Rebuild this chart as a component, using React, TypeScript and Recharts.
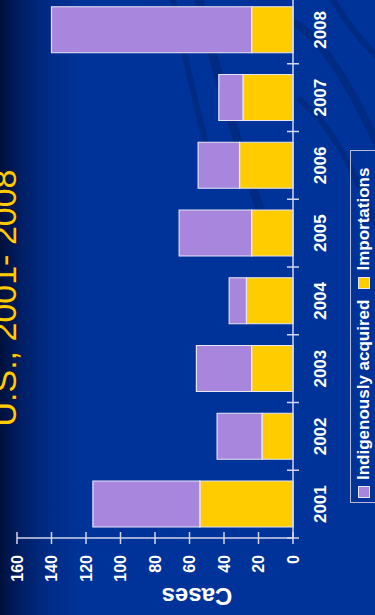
import React from 'react'
import { BarChart, Bar, XAxis, YAxis, Legend } from 'recharts'

// data (measles cases by year)
const years = ['2001', '2002', '2003', '2004', '2005', '2006', '2007', '2008']
const importations = [54, 18, 24, 27, 24, 31, 29, 24]
const indigenous = [62, 26, 32, 10, 42, 24, 14, 116]
const caseTicks = [0, 20, 40, 60, 80, 100, 120, 140, 160]

const data = years.map((year, i) => ({
  year,
  importations: importations[i],
  indigenous: indigenous[i],
}))

const FONT = '"Liberation Sans", Arial, Helvetica, sans-serif'
const PURPLE = '#A886DE'
const YELLOW = '#FFCC00'
const AXIS = '#d2d6ea'

// the slide is drawn landscape and turned a quarter to the left
const W = 615
const H = 375
const CHART_W = 620
const margin = { top: 17, right: 1, bottom: 52, left: 17 }
const Y_AXIS_W = 60
const bandW = (CHART_W - margin.left - margin.right - Y_AXIS_W) / years.length

function YearTick({ x, y, payload }: any) {
  return (
    <g>
      <line x1={x - bandW / 2} x2={x - bandW / 2} y1={y - 6} y2={y + 6} stroke={AXIS} strokeWidth={1.5} />
      <text x={x} y={y + 33} textAnchor='middle' fill='#fff' fontSize={17} fontWeight='bold' fontFamily={FONT}>
        {payload.value}
      </text>
    </g>
  )
}

function CaseTick({ x, y, payload }: any) {
  return (
    <g>
      <line x1={x - 6} x2={x + 6} y1={y} y2={y} stroke={AXIS} strokeWidth={1.5} />
      <text x={x - 17} y={y} dy='0.36em' textAnchor='end' fill='#fff' fontSize={16} fontWeight='bold' fontFamily={FONT}>
        {payload.value}
      </text>
    </g>
  )
}

function LegendBox({ payload }: any) {
  const items = [...(payload || [])].reverse()
  return (
    <div
      style={{
        border: '1px solid #b9bdd0',
        height: 40,
        boxSizing: 'border-box',
        paddingTop: 7,
        paddingLeft: 4,
        display: 'flex',
        alignItems: 'flex-start',
        fontFamily: FONT,
        fontWeight: 'bold',
        fontSize: 17,
        color: '#fff',
      }}
    >
      {items.map((it: any, i: number) => (
        <div key={it.value} style={{ display: 'flex', alignItems: 'center', height: 12, marginLeft: i ? 11 : 0 }}>
          <span
            style={{
              width: 12,
              height: 12,
              boxSizing: 'border-box',
              background: it.color,
              border: '1px solid #e6e6f4',
              marginRight: 6,
            }}
          />
          <span style={{ lineHeight: '12px', whiteSpace: 'nowrap' }}>{it.value}</span>
        </div>
      ))}
    </div>
  )
}

export default function App() {
  return (
    <div
      style={{
        position: 'fixed',
        left: 0,
        top: 0,
        width: 375,
        height: 615,
        overflow: 'hidden',
        background:
          'linear-gradient(to right, #00103c 0px, #001f66 22px, #002c88 50px, #003399 85px, #003399 375px)',
      }}
    >
      {/* faint swooshes of the slide template */}
      <svg width={375} height={615} style={{ position: 'absolute', left: 0, top: 0 }}>
        <g fill='none' stroke='#00287a' strokeLinecap='round' opacity={0.7}>
          <path d='M198 -5 Q222 100 262 215' strokeWidth={9} />
          <path d='M172 -5 Q185 60 205 140' strokeWidth={6} />
          <path d='M292 22 Q330 40 380 150' strokeWidth={8} />
          <path d='M300 100 Q340 130 380 235' strokeWidth={6} />
          <path d='M330 -5 Q350 30 380 60' strokeWidth={6} />
        </g>
      </svg>
      <div
        style={{
          position: 'absolute',
          left: 0,
          top: 0,
          width: W,
          height: H,
          transformOrigin: '0 0',
          transform: `translateY(${W}px) rotate(-90deg)`,
        }}
      >
        <BarChart width={CHART_W} height={H} data={data} margin={margin} barSize={46}>
          <XAxis
            dataKey='year'
            height={30}
            axisLine={{ stroke: AXIS, strokeWidth: 1.5 }}
            tickLine={false}
            tickSize={0}
            tickMargin={0}
            tick={<YearTick />}
            interval={0}
          />
          <YAxis
            width={Y_AXIS_W}
            domain={[0, 160]}
            ticks={caseTicks}
            axisLine={{ stroke: AXIS, strokeWidth: 1.5 }}
            tickLine={false}
            tickSize={0}
            tickMargin={0}
            tick={<CaseTick />}
            interval={0}
          />
          <Legend
            layout='horizontal'
            verticalAlign='middle'
            align='center'
            content={<LegendBox />}
            wrapperStyle={{ left: 112, top: 350, width: 353, right: 'auto', bottom: 'auto' }}
          />
          <Bar
            dataKey='importations'
            name='Importations'
            stackId='cases'
            fill={YELLOW}
            stroke='#e6e6f4'
            strokeWidth={1.2}
            isAnimationActive={false}
          />
          <Bar
            dataKey='indigenous'
            name='Indigenously acquired'
            stackId='cases'
            fill={PURPLE}
            stroke='#e6e6f4'
            strokeWidth={1.2}
            isAnimationActive={false}
          />
        </BarChart>
        <svg
          width={W}
          height={H}
          style={{ position: 'absolute', left: 0, top: 0, pointerEvents: 'none', overflow: 'visible' }}
        >
          <text
            x={317}
            y={16}
            textAnchor='middle'
            fontFamily={FONT}
            fontSize={34}
            fill={YELLOW}
            stroke='#14143a'
            strokeWidth={1.5}
            paintOrder='stroke'
          >
            U.S., 2001- 2008
          </text>
          <text
            x={27}
            y={197}
            transform='rotate(-90 27 197)'
            textAnchor='middle'
            fontFamily={FONT}
            fontSize={24}
            fontWeight='bold'
            fill='#fff'
          >
            Cases
          </text>
        </svg>
      </div>
    </div>
  )
}
